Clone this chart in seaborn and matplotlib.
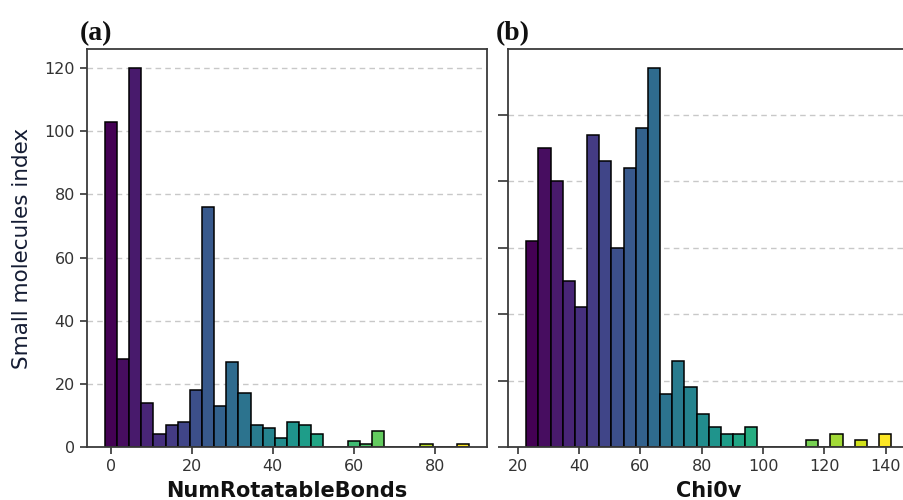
import numpy as np
import pandas as pd
import matplotlib
matplotlib.use("Agg")
import matplotlib.pyplot as plt
import seaborn as sns

# Histogram counts per bin (480 small molecules)
rot_bonds_counts = [103, 28, 120, 14, 4, 7, 8, 18, 76, 13,
                    27, 17, 7, 6, 3, 8, 7, 4, 0, 0,
                    2, 1, 5, 0, 0, 0, 1, 0, 0, 1]
rot_bonds_start, rot_bonds_width = -1.5, 3.0

chi0v_counts = [31, 45, 40, 25, 21, 47, 43, 30, 42, 48,
                57, 8, 13, 9, 5, 3, 2, 2, 3, 0,
                0, 0, 0, 1, 0, 2, 0, 1, 0, 2]
chi0v_start, chi0v_end = 22.8, 141.8

left_xticks = [0, 20, 40, 60, 80]
left_yticks = [0, 20, 40, 60, 80, 100, 120]
right_xticks = [20, 40, 60, 80, 100, 120, 140]
right_yticks = [0, 10, 20, 30, 40, 50]


def hist_panel(ax, counts, edges, xlabel, xticks, yticks, show_ylabels):
    centers = (edges[:-1] + edges[1:]) / 2
    df = pd.DataFrame({"x": centers, "n": np.asarray(counts, dtype=float)})
    sns.histplot(data=df, x="x", weights="n", bins=list(edges), ax=ax,
                 edgecolor="black", linewidth=1.1, alpha=1.0)
    cmap = plt.get_cmap("viridis")
    nb = len(counts)
    for i, patch in enumerate(ax.patches):
        patch.set_facecolor(cmap(i / (nb - 1)))
    ax.set_axisbelow(True)
    ax.yaxis.grid(True, linestyle=(0, (4, 3)), color="#c8c8c8", linewidth=1.0)
    ax.set_xticks(xticks)
    ax.set_yticks(yticks)
    ax.set_xlabel(xlabel, fontsize=15, fontweight="bold", color="#111111", labelpad=5)
    ax.set_ylabel("")
    ax.tick_params(labelsize=11.5, colors="#333333", length=5, width=1.2)
    if not show_ylabels:
        ax.tick_params(axis="y", labelleft=False, length=7)
    for sp in ax.spines.values():
        sp.set_color("#3a3a3a")
        sp.set_linewidth(1.3)


fig = plt.figure(figsize=(9.04, 5.0), dpi=100)
ax1 = fig.add_axes([0.0959, 0.106, 0.4431, 0.7954])
ax2 = fig.add_axes([0.5619, 0.106, 0.4443, 0.7954])

edges1 = rot_bonds_start + rot_bonds_width * np.arange(len(rot_bonds_counts) + 1)
edges2 = np.linspace(chi0v_start, chi0v_end, len(chi0v_counts) + 1)

hist_panel(ax1, rot_bonds_counts, edges1, "NumRotatableBonds",
           left_xticks, left_yticks, True)
hist_panel(ax2, chi0v_counts, edges2, "Chi0v",
           right_xticks, right_yticks, False)

ax1.set_ylabel("Small molecules index", fontsize=15.5, color="#141c33", labelpad=9)

fig.text(0.088, 0.92, "(a)", fontsize=20, fontweight="bold",
         family="Liberation Serif", color="#111111")
fig.text(0.548, 0.92, "(b)", fontsize=20, fontweight="bold",
         family="Liberation Serif", color="#111111")

fig.savefig("out.png", dpi=100)
